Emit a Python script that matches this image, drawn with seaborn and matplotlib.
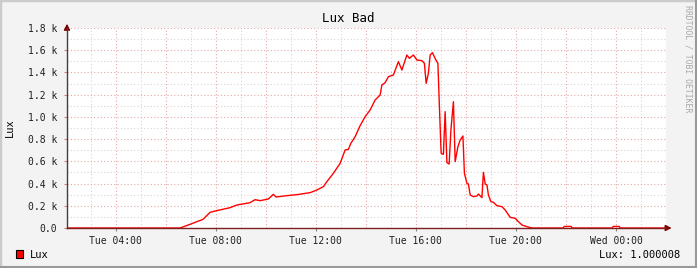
import matplotlib
matplotlib.use("Agg")
import matplotlib.pyplot as plt
import seaborn as sns
import pandas as pd
import numpy as np
from matplotlib.patches import Rectangle
from matplotlib.lines import Line2D

# ---- data (hours since Tue 00:00, lux) ----
hours = [2.05, 6.57, 6.97, 7.49, 7.77, 7.97, 8.57, 8.84, 9.37, 9.57, 9.77, 10.10, 10.30, 10.41,
         10.84, 11.24, 11.77, 12.04, 12.30, 12.44, 12.70, 12.97, 13.06, 13.17, 13.30, 13.40,
         13.57, 13.77, 13.97, 14.17, 14.37, 14.57, 14.64, 14.77, 14.90, 15.10, 15.30, 15.44,
         15.64, 15.74, 15.90, 16.04, 16.24, 16.34, 16.41, 16.50, 16.57, 16.66, 16.80, 16.88,
         16.94, 17.01, 17.10, 17.17, 17.24, 17.33, 17.40, 17.50, 17.57, 17.68, 17.77, 17.88,
         17.94, 18.04, 18.10, 18.17, 18.30, 18.44, 18.50, 18.64, 18.70, 18.77, 18.84, 18.90,
         19.00, 19.10, 19.24, 19.44, 19.57, 19.77, 19.97, 20.10, 20.24, 20.44, 20.64,
         21.89, 21.93, 22.21, 22.25, 23.85, 23.89, 24.13, 24.17, 26.00]
lux = [0, 0, 33, 78, 141, 153, 183, 207, 228, 255, 246, 261, 303, 279,
       291, 300, 318, 342, 372, 417, 492, 582, 636, 702, 708, 762,
       822, 921, 1002, 1062, 1152, 1197, 1287, 1308, 1362, 1377, 1497, 1422,
       1557, 1527, 1557, 1512, 1506, 1482, 1302, 1392, 1557, 1578, 1512, 1482,
       1092, 672, 663, 1047, 588, 576, 882, 1137, 597, 732, 792, 828,
       492, 402, 396, 297, 282, 288, 306, 273, 501, 396, 387, 297,
       237, 231, 201, 192, 162, 96, 87, 57, 27, 12, 0,
       0, 14, 14, 0, 0, 14, 14, 0, 0]
x_tick_pos = [4, 8, 12, 16, 20, 24]
x_tick_labels = ["Tue 04:00", "Tue 08:00", "Tue 12:00", "Tue 16:00", "Tue 20:00", "Wed 00:00"]
y_tick_pos = [0, 200, 400, 600, 800, 1000, 1200, 1400, 1600, 1800]
y_tick_labels = ["0.0", "0.2 k", "0.4 k", "0.6 k", "0.8 k", "1.0 k", "1.2 k", "1.4 k", "1.6 k", "1.8 k"]

df = pd.DataFrame({"h": hours, "lux": lux})

plt.rcParams["font.family"] = ["DejaVu Sans Mono", "DejaVu Sans"]

W, H = 697, 268
fig = plt.figure(figsize=(W / 100, H / 100), dpi=100, facecolor="#f3f3f3")

# 3D-ish frame
fig.patches.append(Rectangle((0, 0), 1, 1, transform=fig.transFigure, fill=False,
                             edgecolor="#cbcbcb", linewidth=2.5, zorder=0))
fig.add_artist(Line2D([1 - 1 / W, 1 - 1 / W], [0, 1], transform=fig.transFigure, color="#999999", lw=1.5))
fig.add_artist(Line2D([0, 1], [1 / H, 1 / H], transform=fig.transFigure, color="#999999", lw=1.5))

L, R, T, B = 67, 666, 28, 228
ax = fig.add_axes([L / W, (H - B) / H, (R - L) / W, (B - T) / H])
ax.set_facecolor("white")

xmin, xmax = 2.05, 26.0
ax.set_xlim(xmin, xmax)
ax.set_ylim(0, 1800)

# grids
minor_c = "#d6d6d6"
major_c = "#e4a8a8"
for h in range(3, 27):
    if h % 2 == 0:
        continue
    ax.axvline(h, color=minor_c, lw=0.8, ls=(0, (1, 2)), zorder=1)
for h in range(4, 27, 2):
    ax.axvline(h, color=major_c, lw=0.8, ls=(0, (1, 2)), zorder=1)
for v in range(100, 1800, 200):
    ax.axhline(v, color=minor_c, lw=0.8, ls=(0, (1, 2)), zorder=1)
for v in range(200, 1801, 200):
    ax.axhline(v, color=major_c, lw=0.8, ls=(0, (1, 2)), zorder=1)

sns.lineplot(data=df, x="h", y="lux", ax=ax, color="#ff0000", linewidth=1.0, zorder=3,
             legend=False, estimator=None, sort=False)

for s in ["top", "right"]:
    ax.spines[s].set_visible(False)
ax.spines["left"].set_color("#404040")
ax.spines["bottom"].set_color("#7f2020")
ax.spines["left"].set_linewidth(1.0)
ax.spines["bottom"].set_linewidth(1.0)
ax.spines["left"].set_zorder(4)
ax.spines["bottom"].set_zorder(4)

# arrows
ax.annotate("", xy=(0, 1.035), xytext=(0, 0.99), xycoords="axes fraction",
            arrowprops=dict(arrowstyle="-|>,head_length=0.35,head_width=0.18", color="#7f0000", lw=1),
            annotation_clip=False)
ax.annotate("", xy=(1.014, 0), xytext=(0.995, 0), xycoords="axes fraction",
            arrowprops=dict(arrowstyle="-|>,head_length=0.35,head_width=0.18", color="#7f0000", lw=1),
            annotation_clip=False)

ax.set_xticks(x_tick_pos)
ax.set_xticklabels(x_tick_labels)
ax.set_yticks(y_tick_pos)
ax.set_yticklabels(y_tick_labels)
ax.tick_params(axis="both", labelsize=7, colors="#202020", length=2, width=0.8, pad=4)
ax.tick_params(axis="x", color="#888888", pad=4)
ax.tick_params(axis="y", color="#d08080", pad=5)
ax.set_xlabel("")
ax.set_ylabel("")
fig.text(10 / W, 1 - 128 / H, "Lux", rotation=90, ha="center", va="center", fontsize=7.5)

fig.text(0.5, 1 - 18 / H, "Lux Bad", ha="center", va="center", fontsize=9)

# legend
fig.patches.append(Rectangle((16 / W, 1 - 258 / H), 7 / W, 8 / H, transform=fig.transFigure,
                             facecolor="#ff0000", edgecolor="black", linewidth=0.8))
fig.text(30 / W, 1 - 254.5 / H, "Lux", ha="left", va="center", fontsize=7.5)
fig.text(680 / W, 1 - 254.5 / H, "Lux: 1.000008", ha="right", va="center", fontsize=7.5)

# watermark
fig.text(688 / W, 1 - 5 / H, "RRDTOOL / TOBI OETIKER", rotation=-90, ha="center", va="top",
         fontsize=5.9, color="#a8a8a8")

fig.savefig("out.png", dpi=100, facecolor=fig.get_facecolor())
